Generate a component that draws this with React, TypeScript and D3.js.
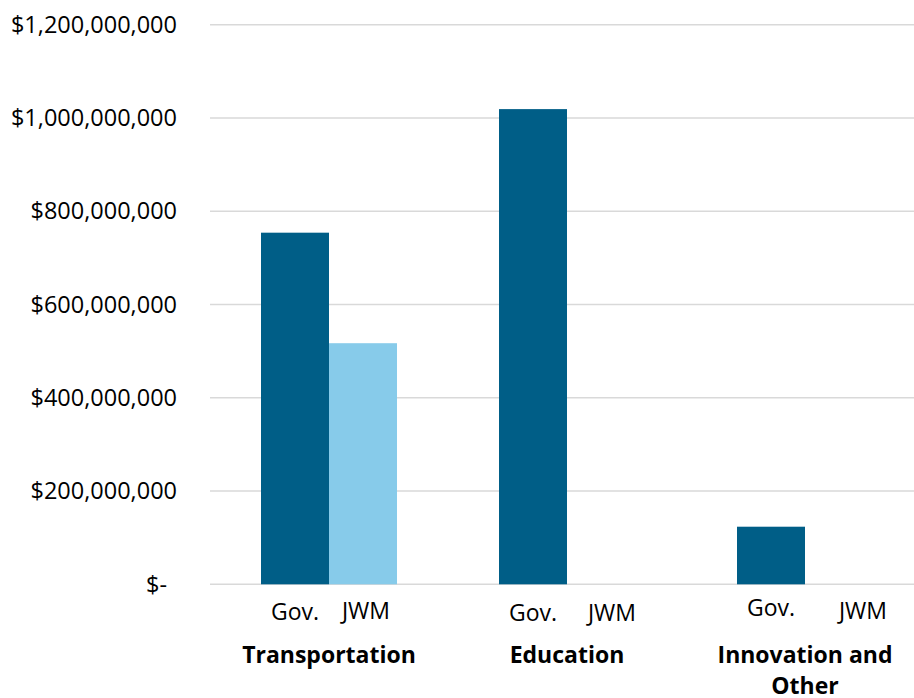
import React from "react";
import * as d3 from "d3";

const categories = ["Transportation", "Education", "Innovation and Other"];
const seriesNames = ["Gov.", "JWM"];
const govValues = [754000000, 1019000000, 123500000];
const jwmValues = [517000000, 0, 0];
const yTicks = [0, 200000000, 400000000, 600000000, 800000000, 1000000000, 1200000000];

const W = 914;
const H = 698;
const plot = { left: 210, right: 924, top: 24.7, bottom: 584.3 };
const colors = ["#005E87", "#87CBEA"];
const FONT = "'Open Sans', Lato, sans-serif";
// manual label nudges (dx, dy) per category/series, as placed in the original
const subLabelNudge = [
  [[0, 0], [3, -1]],
  [[0, 1], [11, 1]],
  [[0, -4], [24, -1]],
];

export default function App() {
  const x0 = d3.scaleBand<string>().domain(categories).range([plot.left, plot.right]).paddingInner(0).paddingOuter(0);
  const x1 = d3.scaleBand<string>().domain(seriesNames).range([0, x0.bandwidth()]).paddingOuter(0.75).paddingInner(0);
  const y = d3.scaleLinear().domain([0, 1200000000]).range([plot.bottom, plot.top]);
  const fmt = (v: number) => (v === 0 ? "$-" : "$" + d3.format(",")(v));
  const values = [govValues, jwmValues];

  return (
    <svg width={W} height={H} style={{ position: "absolute", left: 0, top: 0, background: "#fff" }}>
      {yTicks.map((t) => (
        <g key={t}>
          <line x1={plot.left} x2={W} y1={y(t)} y2={y(t)} stroke="#d9d9d9" strokeWidth={1.5} />
          <text
            x={t === 0 ? 167 : 177}
            y={y(t)}
            dy="0.35em"
            textAnchor="end"
            fontFamily={FONT}
            fontSize={23.5}
            fill="#000"
          >
            {fmt(t)}
          </text>
        </g>
      ))}
      {categories.map((c, ci) =>
        seriesNames.map((s, si) => {
          const v = values[si][ci];
          const bx = (x0(c) as number) + (x1(s) as number);
          return v > 0 ? (
            <rect key={c + s} x={bx} y={y(v)} width={x1.bandwidth()} height={y(0) - y(v)} fill={colors[si]} />
          ) : null;
        })
      )}
      {categories.map((c, ci) =>
        seriesNames.map((s, si) => {
          const bx = (x0(c) as number) + (x1(s) as number) + x1.bandwidth() / 2;
          const [dx, dy] = subLabelNudge[ci][si];
          return (
            <text key={"l" + c + s} x={bx + dx} y={620 + dy} textAnchor="middle" fontFamily={FONT} fontSize={23} fill="#000">
              {s}
            </text>
          );
        })
      )}
      {categories.map((c) => {
        const cx = (x0(c) as number) + x0.bandwidth() / 2;
        const lines = c === "Innovation and Other" ? ["Innovation and", "Other"] : [c];
        return (
          <text key={"c" + c} x={cx} y={663} textAnchor="middle" fontFamily={FONT} fontSize={23} fontWeight="bold" fill="#000">
            {lines.map((ln, i) => (
              <tspan key={i} x={cx} dy={i === 0 ? 0 : 31}>
                {ln}
              </tspan>
            ))}
          </text>
        );
      })}
    </svg>
  );
}
